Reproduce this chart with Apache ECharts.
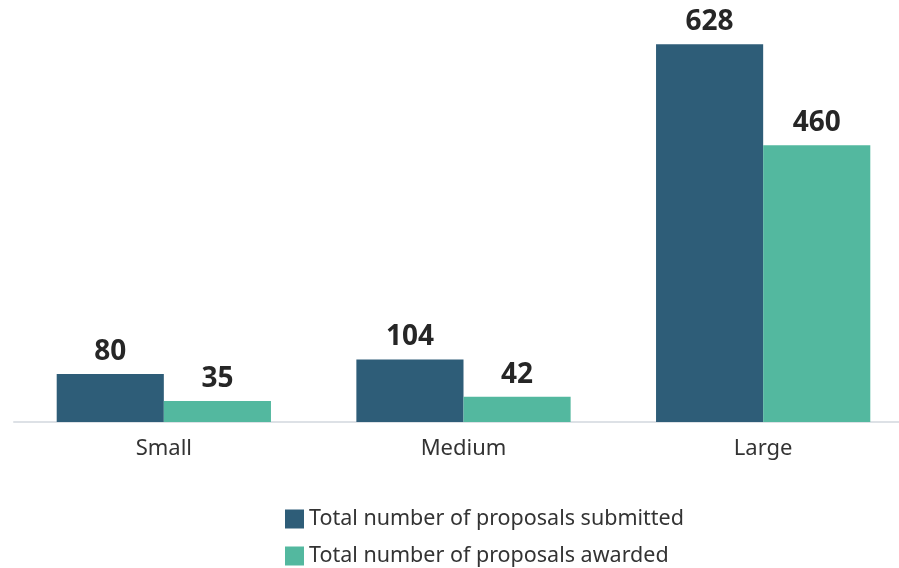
<!DOCTYPE html>
<html><head><meta charset="utf-8">
<script src="https://cdn.jsdelivr.net/npm/echarts@6/dist/echarts.min.js"></script>
<style>html,body{margin:0;padding:0;background:#fff}#c{width:899px;height:568px}</style>
</head><body><div id="c"></div>
<script>
const categories = ["Small", "Medium", "Large"];
const seriesNames = ["Total number of proposals submitted", "Total number of proposals awarded"];
const submitted = [80, 104, 628];
const awarded = [35, 42, 460];

const chart = echarts.init(document.getElementById('c'), null, {renderer: 'canvas'});
const labelStyle = {show: true, position: 'top', distance: 8, fontFamily: 'Noto Sans', fontWeight: 'bold', fontSize: 28, color: '#262626'};
const legendText = {fontFamily: 'Noto Sans', fontSize: 21.5, color: '#333'};
chart.setOption({
  animation: false,
  grid: {left: 14, width: 899, top: 1, height: 421, containLabel: false, outerBoundsMode: 'none'},
  legend: [
    {left: 280, top: 503, itemWidth: 19, itemHeight: 19, itemGap: 10, icon: 'rect', textStyle: legendText, data: [seriesNames[0]]},
    {left: 280, top: 540, itemWidth: 19, itemHeight: 19, itemGap: 10, icon: 'rect', textStyle: legendText, data: [seriesNames[1]]}
  ],
  xAxis: {
    type: 'category', data: categories,
    axisLine: {lineStyle: {color: '#dde1e6', width: 2}},
    axisTick: {show: false},
    axisLabel: {fontFamily: 'Noto Sans', fontSize: 22, color: '#333', margin: 16}
  },
  yAxis: {type: 'value', min: 0, max: 700, show: false, splitLine: {show: false}},
  series: [
    {name: seriesNames[0], type: 'bar', data: submitted, barGap: '0%', barCategoryGap: '28.5%',
     itemStyle: {color: '#2e5d78'}, label: labelStyle},
    {name: seriesNames[1], type: 'bar', data: awarded, barGap: '0%', barCategoryGap: '28.5%',
     itemStyle: {color: '#53b89f'}, label: labelStyle}
  ]
});
</script></body></html>
